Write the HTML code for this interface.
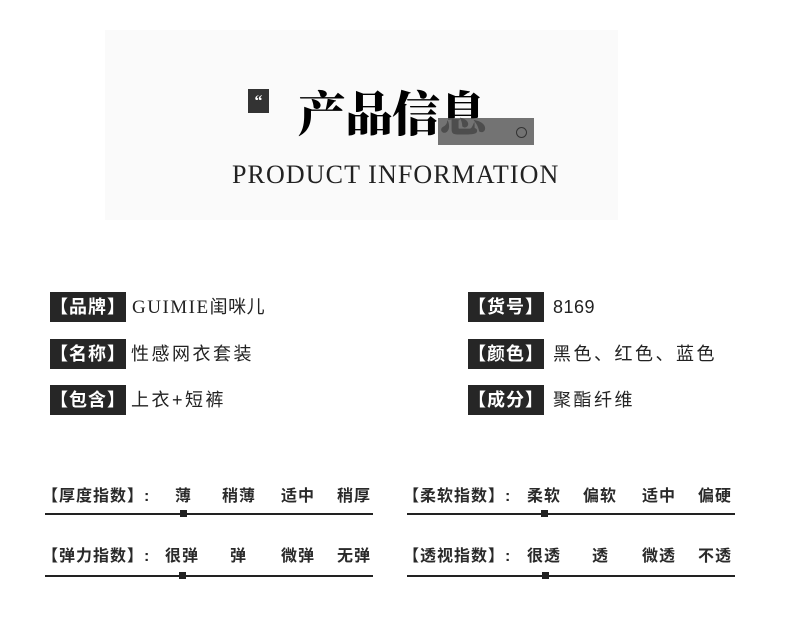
<!DOCTYPE html>
<html><head><meta charset="utf-8"><style>
body{margin:0;width:790px;height:624px;background:#fff;position:relative;overflow:hidden;font-family:"Liberation Sans","Noto Sans CJK SC",sans-serif;color:#222}
.a{position:absolute;white-space:nowrap}
.bg{left:105px;top:30px;width:513px;height:190px;background:#fafafa}
.lab{background:#262626;color:#fff;font-size:18px;font-weight:bold;height:30px;line-height:30px;width:76px;text-align:center;letter-spacing:1px}
.val{font-size:18px;line-height:30px;letter-spacing:2.5px;color:#222}
.s{font-size:16px;font-weight:bold;color:#2a2a2a;line-height:20px;letter-spacing:1px}
.ln{height:1.5px;background:#222}
.m{width:7px;height:7px;background:#222}
</style></head><body>
<div class="a bg"></div>
<div class="a" style="left:248px;top:89px;width:21px;height:24px;background:#333;color:#fff;font-size:16px;font-weight:bold;text-align:center;line-height:26px;font-family:'Liberation Serif',serif">“</div>
<div class="a" style="left:298px;top:86px;font-size:48px;font-weight:900;font-family:'Liberation Serif','Noto Serif CJK SC',serif;color:#000;line-height:60px;letter-spacing:-1px">产品信息</div>
<div class="a" style="left:438px;top:118px;width:96px;height:27px;background:rgba(90,90,90,0.85)"></div>
<div class="a" style="left:516px;top:127px;width:9px;height:9px;border:1.5px solid #333;border-radius:50%"></div>
<div class="a" style="left:232px;top:160px;font-size:26px;font-family:'Liberation Serif',serif;color:#222;line-height:30px;letter-spacing:1.1px">PRODUCT INFORMATION</div>

<div class="a lab" style="left:50px;top:292px">【品牌】</div>
<div class="a val" style="left:132px;top:292px;letter-spacing:0.5px"><span style="font-family:'Liberation Serif',serif;font-size:19px;letter-spacing:1.5px">GUIMIE</span>闺咪儿</div>
<div class="a lab" style="left:50px;top:339px">【名称】</div>
<div class="a val" style="left:131px;top:339px">性感网衣套装</div>
<div class="a lab" style="left:50px;top:385px">【包含】</div>
<div class="a val" style="left:131px;top:385px">上衣+短裤</div>

<div class="a lab" style="left:468px;top:292px">【货号】</div>
<div class="a val" style="left:553px;top:292px;letter-spacing:0.5px">8169</div>
<div class="a lab" style="left:468px;top:339px">【颜色】</div>
<div class="a val" style="left:553px;top:339px">黑色、红色、蓝色</div>
<div class="a lab" style="left:468px;top:385px">【成分】</div>
<div class="a val" style="left:553px;top:385px">聚酯纤维</div>

<div class="a s" style="left:42px;top:487px">【厚度指数】:</div>
<div class="a s" style="left:175px;top:487px">薄</div>
<div class="a s" style="left:222px;top:487px">稍薄</div>
<div class="a s" style="left:281px;top:487px">适中</div>
<div class="a s" style="left:337px;top:487px">稍厚</div>
<div class="a ln" style="left:45px;top:513px;width:328px"></div>
<div class="a m" style="left:180px;top:510px"></div>

<div class="a s" style="left:42px;top:547px">【弹力指数】:</div>
<div class="a s" style="left:165px;top:547px">很弹</div>
<div class="a s" style="left:230px;top:547px">弹</div>
<div class="a s" style="left:281px;top:547px">微弹</div>
<div class="a s" style="left:337px;top:547px">无弹</div>
<div class="a ln" style="left:45px;top:575px;width:328px"></div>
<div class="a m" style="left:179px;top:572px"></div>

<div class="a s" style="left:403px;top:487px">【柔软指数】:</div>
<div class="a s" style="left:527px;top:487px">柔软</div>
<div class="a s" style="left:583px;top:487px">偏软</div>
<div class="a s" style="left:642px;top:487px">适中</div>
<div class="a s" style="left:698px;top:487px">偏硬</div>
<div class="a ln" style="left:407px;top:513px;width:328px"></div>
<div class="a m" style="left:541px;top:510px"></div>

<div class="a s" style="left:403px;top:547px">【透视指数】:</div>
<div class="a s" style="left:527px;top:547px">很透</div>
<div class="a s" style="left:592px;top:547px">透</div>
<div class="a s" style="left:642px;top:547px">微透</div>
<div class="a s" style="left:698px;top:547px">不透</div>
<div class="a ln" style="left:407px;top:575px;width:328px"></div>
<div class="a m" style="left:542px;top:572px"></div>
</body></html>
